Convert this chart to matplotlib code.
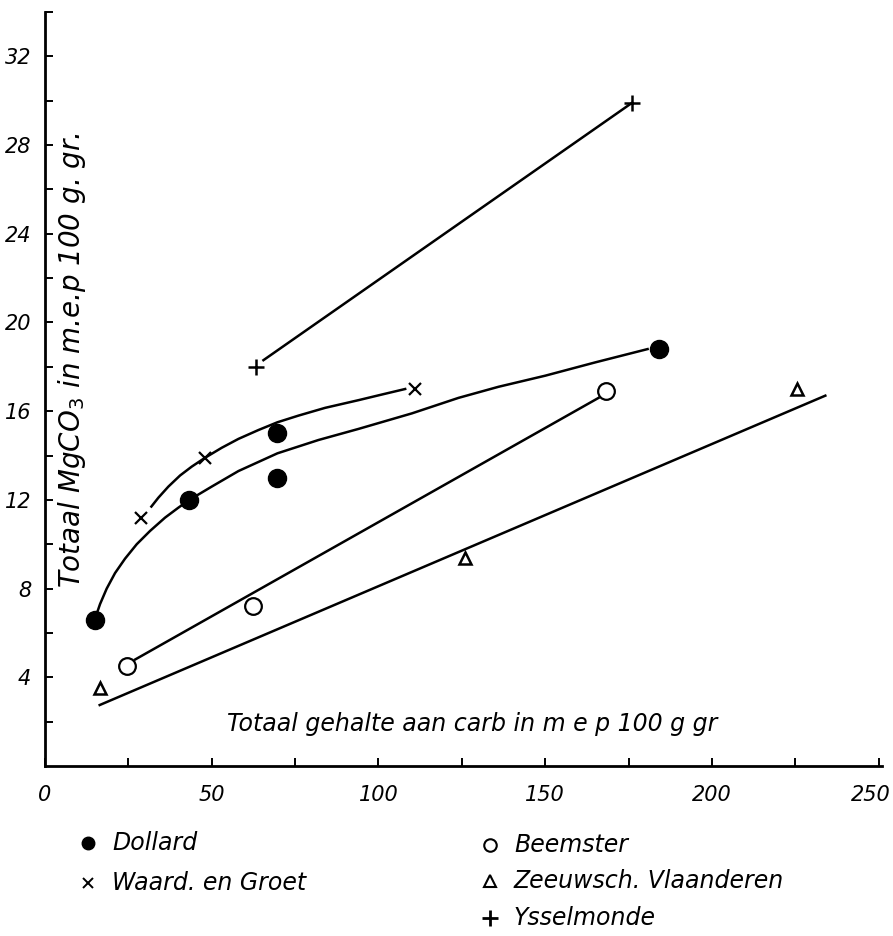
import matplotlib
matplotlib.use('Agg')
import matplotlib.pyplot as plt
from matplotlib.lines import Line2D
from matplotlib.transforms import ScaledTranslation

# gemeten punten (gelezen uit de figuur)
dollard_x = [14.9, 43.3, 69.6, 69.6, 184]
dollard_y = [6.6, 12.0, 15.0, 13.0, 18.8]
waard_x = [28.9, 48, 111]
waard_y = [11.2, 13.9, 17.0]
beemster_x = [24.7, 62.4, 168.2]
beemster_y = [4.5, 7.2, 16.9]
zeeuw_x = [16.4, 126, 225.5]
zeeuw_y = [3.5, 9.4, 17.0]
yssel_x = [63.4, 176]
yssel_y = [18.0, 29.9]

# getekende krommen / lijnen
dollard_curve_x = [14.9, 16.5, 18.5, 21, 24, 27.5, 31.5, 36, 40, 43.3, 50, 58, 69.7, 82, 94, 110, 124, 136, 150, 165, 180.7]
dollard_curve_y = [6.6, 7.3, 8.0, 8.7, 9.35, 10.0, 10.6, 11.2, 11.65, 12.0, 12.6, 13.3, 14.1, 14.7, 15.2, 15.9, 16.6, 17.1, 17.6, 18.2, 18.8]
waard_curve_x = [31.9, 34, 37, 40.5, 44, 48, 53, 58, 64, 69.7, 76, 84, 94.1, 101, 108]
waard_curve_y = [11.7, 12.1, 12.6, 13.1, 13.5, 13.9, 14.35, 14.75, 15.15, 15.5, 15.8, 16.15, 16.5, 16.75, 17.0]
beemster_line_x = [27, 166]
beemster_line_y = [4.8, 16.6]
zeeuw_line_x = [16.4, 234]
zeeuw_line_y = [2.75, 16.7]
yssel_line_x = [65.5, 176]
yssel_line_y = [18.3, 29.9]

namen = ['Dollard', 'Waard. en Groet', 'Beemster', 'Zeeuwsch. Vlaanderen', 'Ysselmonde']

fig = plt.figure(figsize=(8.93, 9.36), dpi=100)
ax = fig.add_axes([0.0504, 0.1816, 0.9373, 0.8056])

lw = 1.8
ax.plot(dollard_curve_x, dollard_curve_y, color='black', lw=lw)
ax.plot(waard_curve_x, waard_curve_y, color='black', lw=lw)
ax.plot(beemster_line_x, beemster_line_y, color='black', lw=lw)
ax.plot(zeeuw_line_x, zeeuw_line_y, color='black', lw=lw)
ax.plot(yssel_line_x, yssel_line_y, color='black', lw=lw)

ax.plot(dollard_x, dollard_y, 'o', color='black', ms=13, ls='none')
ax.plot(waard_x, waard_y, 'x', color='black', ms=9, mew=1.6, ls='none')
ax.plot(beemster_x, beemster_y, 'o', mfc='white', mec='black', ms=12, mew=1.6, ls='none')
ax.plot(zeeuw_x, zeeuw_y, '^', mfc='white', mec='black', ms=9, mew=1.8, ls='none')
ax.plot(yssel_x, yssel_y, '+', color='black', ms=12, mew=1.8, ls='none')

ax.set_xlim(0, 251)
ax.set_ylim(0, 34)
for s in ['top', 'right']:
    ax.spines[s].set_visible(False)
ax.spines['left'].set_linewidth(2)
ax.spines['bottom'].set_linewidth(2)

ax.set_xticks(range(0, 251, 50))
ax.set_xticks(range(0, 251, 25), minor=True)
ax.set_yticks(range(4, 33, 4))
ax.set_yticks(range(2, 35, 2), minor=True)
ax.tick_params(which='both', direction='in', length=6, width=1.4)
ax.tick_params(axis='x', pad=14)
ax.tick_params(axis='y', pad=10)
for t in ax.get_xticklabels() + ax.get_yticklabels():
    t.set_fontstyle('italic')
    t.set_fontsize(15)
laatste = ax.get_xticklabels()[-1]
laatste.set_transform(laatste.get_transform() + ScaledTranslation(-0.08, 0, fig.dpi_scale_trans))

ax.text(128, 1.9, 'Totaal gehalte aan carb in m e p 100 g gr',
        fontsize=17, style='italic', ha='center', va='center')
fig.text(0.081, 0.615, 'Totaal MgCO$_3$ in m.e.p 100 g. gr.',
         fontsize=20, style='italic', rotation=90, ha='center', va='center')

# legenda onder de figuur
leg_pos = [(88, 843), (88, 883), (490, 845), (490, 881), (490, 918)]
leg_style = [
    dict(marker='o', color='black', ms=9),
    dict(marker='x', color='black', ms=7, mew=1.4),
    dict(marker='o', mfc='white', mec='black', ms=9, mew=1.5),
    dict(marker='^', mfc='white', mec='black', ms=8, mew=1.5),
    dict(marker='+', color='black', ms=11, mew=2),
]
for naam, (px, py), st in zip(namen, leg_pos, leg_style):
    fx, fy = px / 893, 1 - py / 936
    fig.add_artist(Line2D([fx], [fy], ls='none', transform=fig.transFigure, **st))
    fig.text(fx + 24 / 893, fy, naam, fontsize=17, style='italic', va='center', ha='left')

plt.savefig('out.png', dpi=100)
